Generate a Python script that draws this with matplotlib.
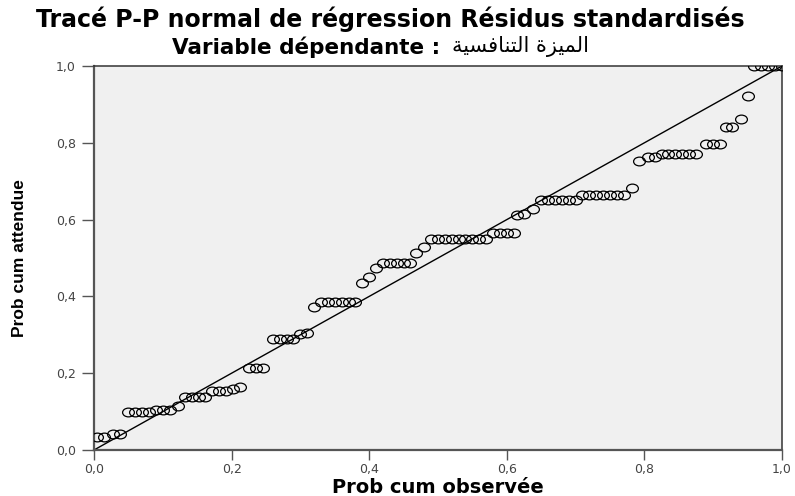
import numpy as np
from matplotlib import pyplot as plt
from matplotlib.path import Path
from matplotlib.transforms import Affine2D

# observed cumulative probability (x) and expected cumulative probability (y)
prob_observed = [
    0.005, 0.015, 0.028, 0.038,
    0.050, 0.060, 0.070, 0.080, 0.090, 0.100, 0.110, 0.122,
    0.132, 0.142, 0.152, 0.162,
    0.172, 0.182, 0.192, 0.202, 0.212,
    0.225, 0.235, 0.245,
    0.260, 0.270, 0.280, 0.290,
    0.300, 0.310, 0.320,
    0.330, 0.340, 0.350, 0.360, 0.370, 0.380,
    0.390, 0.400, 0.410,
    0.420, 0.430, 0.440, 0.450, 0.460,
    0.468, 0.480,
    0.490, 0.500, 0.510, 0.520, 0.530, 0.540, 0.550, 0.560, 0.570,
    0.580, 0.590, 0.600, 0.610,
    0.615, 0.625, 0.638,
    0.650, 0.660, 0.670, 0.680, 0.690, 0.700,
    0.710, 0.720, 0.730, 0.740, 0.750, 0.760, 0.770,
    0.782, 0.792, 0.805, 0.815,
    0.825, 0.835, 0.845, 0.855, 0.865, 0.875,
    0.890, 0.900, 0.910,
    0.918, 0.928, 0.940, 0.950,
    0.960, 0.970, 0.980, 0.990, 1.000,
]
prob_expected = [
    0.035, 0.035, 0.043, 0.043,
    0.100, 0.100, 0.100, 0.100, 0.105, 0.105, 0.105, 0.115,
    0.138, 0.138, 0.138, 0.138,
    0.155, 0.155, 0.155, 0.160, 0.165,
    0.213, 0.213, 0.213,
    0.288, 0.288, 0.288, 0.288,
    0.302, 0.305, 0.372,
    0.385, 0.385, 0.385, 0.385, 0.385, 0.385,
    0.435, 0.450, 0.475,
    0.487, 0.487, 0.487, 0.487, 0.487,
    0.513, 0.528,
    0.550, 0.550, 0.550, 0.550, 0.550, 0.550, 0.550, 0.550, 0.550,
    0.565, 0.565, 0.565, 0.565,
    0.612, 0.615, 0.628,
    0.652, 0.652, 0.652, 0.652, 0.652, 0.652,
    0.664, 0.664, 0.664, 0.664, 0.664, 0.664, 0.664,
    0.683, 0.752, 0.762, 0.762,
    0.772, 0.772, 0.772, 0.772, 0.772, 0.772,
    0.797, 0.797, 0.797,
    0.840, 0.840, 0.862, 0.922,
    1.000, 1.000, 1.000, 1.000, 1.000,
]
tick_values = [0.0, 0.2, 0.4, 0.6, 0.8, 1.0]
tick_labels = ["0,0", "0,2", "0,4", "0,6", "0,8", "1,0"]

fig = plt.figure(figsize=(7.95, 4.96), dpi=100)
ax = fig.add_axes([0.1182, 0.0927, 0.8654, 0.7742])
ax.set_facecolor("#f0f0f0")

# slightly wide ellipse marker, like the stretched circles in the original
ellipse = Path.unit_circle().transformed(Affine2D().scale(1.35, 1.0))
ax.plot([0, 1], [0, 1], color="black", linewidth=1.0, zorder=2)
ax.plot(prob_observed, prob_expected, linestyle="none", marker=ellipse,
        markersize=8.5, markerfacecolor="none", markeredgecolor="black",
        markeredgewidth=0.9, zorder=3)

ax.set_xlim(0, 1)
ax.set_ylim(0, 1)
ax.set_xticks(tick_values)
ax.set_xticklabels(tick_labels)
ax.set_yticks(tick_values)
ax.set_yticklabels(tick_labels)
ax.tick_params(direction="out", length=7, width=1, color="#555555",
               labelsize=9, labelcolor="#444444")
ax.tick_params(axis="x", pad=2)
ax.tick_params(axis="y", length=9, pad=4)
for side in ["left", "bottom"]:
    ax.spines[side].set_color("#555555")
    ax.spines[side].set_linewidth(1.6)
for side in ["top", "right"]:
    ax.spines[side].set_color("#333333")
    ax.spines[side].set_linewidth(1.1)

ax.set_xlabel("Prob cum observée", fontsize=14, fontweight="bold",
              family="DejaVu Sans", va="center")
ax.xaxis.set_label_coords(0.5, -0.097)
ax.set_ylabel("Prob cum attendue", fontsize=12.5, fontweight="bold",
              family=["Liberation Sans Narrow", "Liberation Sans"],
              va="center", ha="center")
ax.yaxis.set_label_coords(-0.108, 0.5)

fig.text(0.491, 0.961, "Tracé P-P normal de régression Résidus standardisés",
         ha="center", va="center", fontsize=17, fontweight="bold",
         family="DejaVu Sans")
fig.text(0.554, 0.904, "Variable dépendante :", ha="right", va="center",
         fontsize=15.5, fontweight="bold", family="DejaVu Sans")
# Arabic written in presentation forms, visual order (matplotlib does no shaping)
fig.text(0.568, 0.907,
         "\uFE94\uFEF4\uFEB4\uFED3\uFE8E\uFEE8\uFE98\uFEDF\uFE8D "
         "\uFE93\uFEB0\uFEF4\uFEE4\uFEDF\uFE8D",
         ha="left", va="center", fontsize=15, family="DejaVu Sans")

fig.savefig("out.png", dpi=100)
